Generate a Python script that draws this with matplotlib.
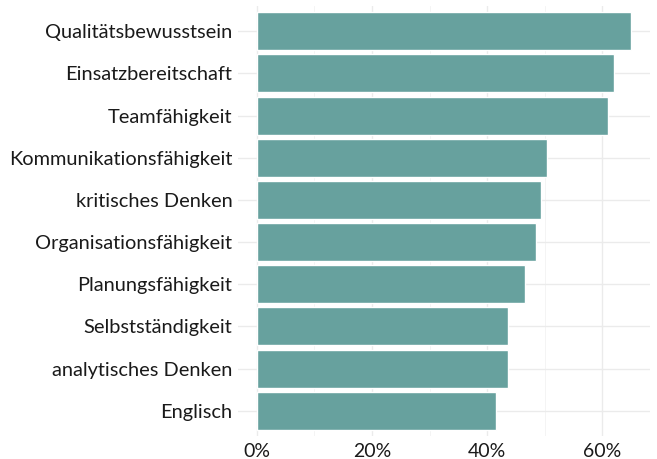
import matplotlib
matplotlib.use("Agg")
import matplotlib.pyplot as plt
from matplotlib.ticker import MultipleLocator, FuncFormatter

categories = ["Qualitätsbewusstsein", "Einsatzbereitschaft", "Teamfähigkeit",
              "Kommunikationsfähigkeit", "kritisches Denken", "Organisationsfähigkeit",
              "Planungsfähigkeit", "Selbstständigkeit", "analytisches Denken", "Englisch"]
values = [65.0, 62.0, 61.0, 50.4, 49.4, 48.5, 46.5, 43.6, 43.6, 41.6]
xticks = [0, 20, 40, 60]

plt.rcParams['font.family'] = ['Lato', 'DejaVu Sans']

fig = plt.figure(figsize=(6.57, 4.59), dpi=100)
ax = fig.add_axes([238/657, 1 - 436/459, (650-238)/657, (436-6)/459])

n = len(categories)
ypos = list(range(n, 0, -1))
ax.barh(ypos, values, height=0.9, color="#67A19E", edgecolor="white", linewidth=1.0, zorder=3)

ax.set_xlim(-3.25, 68.25)
ax.set_ylim(0.4, n + 0.6)
ax.set_yticks(ypos)
ax.set_yticklabels(categories, fontsize=14.4, color="#1a1a1a")
ax.set_xticks(xticks)
ax.xaxis.set_major_formatter(FuncFormatter(lambda v, p: f"{v:.0f}%"))
ax.xaxis.set_minor_locator(MultipleLocator(10))
ax.tick_params(axis='x', labelsize=14, colors="#1a1a1a", length=0, pad=5)
ax.tick_params(axis='y', length=0, pad=4)
ax.tick_params(which='minor', length=0)
ax.grid(True, which='major', color="#EBEBEB", linewidth=1.0, zorder=0)
ax.grid(True, which='minor', axis='x', color="#F3F3F3", linewidth=0.6, zorder=0)
for s in ax.spines.values():
    s.set_visible(False)

fig.savefig("out.png", dpi=100, facecolor="white")
